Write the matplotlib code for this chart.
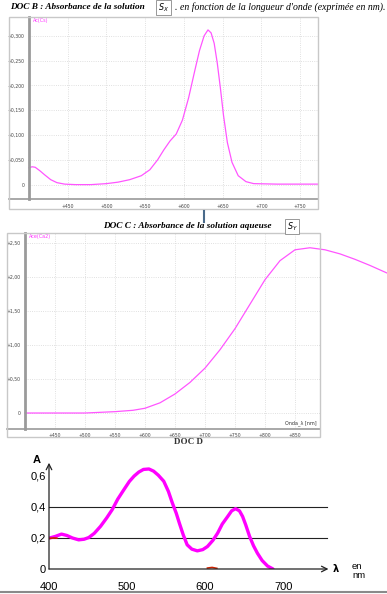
import matplotlib.pyplot as plt
from matplotlib.patches import Rectangle
from matplotlib.lines import Line2D

W, H = 387, 594

# ---- DOC B : absorbance de Sx ----
wl_b = [400, 404, 408, 414, 420, 428, 436, 446, 460, 480, 500, 515, 530, 545, 556,
        566, 574, 582, 590, 598, 606, 614, 620, 626, 631, 635, 639, 643, 647, 651,
        656, 662, 670, 680, 690, 720, 773]
abs_b = [0.034, 0.036, 0.035, 0.028, 0.020, 0.010, 0.004, 0.001, 0.000, 0.000, 0.002,
         0.005, 0.010, 0.018, 0.030, 0.050, 0.070, 0.088, 0.102, 0.130, 0.175, 0.230,
         0.270, 0.300, 0.312, 0.306, 0.285, 0.245, 0.195, 0.140, 0.085, 0.045, 0.018,
         0.006, 0.002, 0.001, 0.001]
yt_b = [0, 0.05, 0.10, 0.15, 0.20, 0.25, 0.30]
yl_b = ['0', '+0,050', '+0,100', '+0,150', '+0,200', '+0,250', '+0,300']
xt_b = [450, 500, 550, 600, 650, 700, 750]

# ---- DOC C : absorbance de Sy ----
wl_c = [400, 450, 500, 550, 580, 600, 625, 650, 675, 700, 725, 750, 775, 800, 825,
        850, 875, 900, 925, 950, 975, 1003]
abs_c = [0.0, 0.0, 0.0, 0.02, 0.04, 0.07, 0.15, 0.28, 0.45, 0.66, 0.93, 1.24, 1.60,
         1.96, 2.24, 2.40, 2.43, 2.40, 2.34, 2.26, 2.17, 2.06]
yt_c = [0, 0.5, 1.0, 1.5, 2.0, 2.5]
yl_c = ['0', '+0,50', '+1,00', '+1,50', '+2,00', '+2,50']
xt_c = [450, 500, 550, 600, 650, 700, 750, 800, 850]

# ---- DOC D ----
wl_d = [400, 408, 416, 423, 430, 438, 445, 451, 458, 466, 474, 481, 488, 496, 503,
        509, 515, 521, 528, 534, 540, 547, 553, 558, 563, 567, 572, 577, 583, 590,
        597, 603, 610, 616, 622, 629, 634, 639, 644, 648, 652, 657, 662, 667, 673,
        680, 687]
abs_d = [0.199, 0.210, 0.225, 0.216, 0.200, 0.188, 0.192, 0.203, 0.230, 0.275, 0.330,
         0.383, 0.450, 0.512, 0.565, 0.599, 0.625, 0.642, 0.645, 0.631, 0.605, 0.566,
         0.500, 0.426, 0.360, 0.296, 0.220, 0.156, 0.128, 0.117, 0.125, 0.145, 0.185,
         0.231, 0.290, 0.339, 0.375, 0.389, 0.375, 0.339, 0.285, 0.210, 0.150, 0.102,
         0.055, 0.019, 0.0]
yt_d = [0, 0.2, 0.4, 0.6]
yl_d = ['0', '0,2', '0,4', '0,6']
xt_d = [400, 500, 600, 700]
# little red stray marks on the scanned curve
wl_red1 = [401, 406, 410]
abs_red1 = [0.198, 0.200, 0.199]
wl_red2 = [603, 609, 615]
abs_red2 = [0.006, 0.010, 0.004]

fig = plt.figure(figsize=(W / 100, H / 100), dpi=100)


def fx(x):
    return x / W


def fy(y):
    return 1 - y / H


def px_axes(x0, y0, x1, y1):
    return fig.add_axes([fx(x0), fy(y1), (x1 - x0) / W, (y1 - y0) / H])


def frame(x0, y0, x1, y1):
    fig.patches.append(Rectangle((fx(x0), fy(y1)), (x1 - x0) / W, (y1 - y0) / H,
                                 transform=fig.transFigure, fill=False,
                                 ec='#c8c8c8', lw=1))


def scope_panel(ax, wl, ab, xt, yt, yl, xlim, ylim, tag, left_px):
    ax.set_facecolor('none')
    ax.plot(wl, ab, color='#ff55ff', lw=0.9, clip_on=False)
    ax.set_xlim(*xlim)
    ax.set_ylim(*ylim)
    for s in ['top', 'right', 'bottom']:
        ax.spines[s].set_visible(False)
    ax.spines['left'].set_color('#9a9a9a')
    ax.spines['left'].set_linewidth(2)
    ax.axhline(ylim[0], xmin=-left_px, xmax=1, color='#9a9a9a', lw=1.2, clip_on=False)
    ax.set_xticks(xt)
    ax.set_xticklabels(['+%d' % v for v in xt])
    ax.set_yticks(yt)
    ax.set_yticklabels(yl)
    ax.tick_params(length=0, labelsize=3.3, colors='#444444', pad=3)
    ax.grid(True, color='#d6d6d6', linestyle=':', lw=0.6)
    ax.text(0.015, 0.995, tag, transform=ax.transAxes, fontsize=3.5, color='#ff33ff',
            va='top', ha='left')


# DOC B panel
frame(9, 17, 318, 209)
axb = px_axes(29, 17, 318, 199.5)
scope_panel(axb, wl_b, abs_b, xt_b, yt_b, yl_b, (400, 773), (-0.030, 0.338),
            'Ac(Cs)', 20 / 289)

# DOC C panel
frame(7, 233, 320, 437)
axc = px_axes(25, 233, 320, 429)
scope_panel(axc, wl_c, abs_c, xt_c, yt_c, yl_c, (400, 891.7), (-0.235, 2.647),
            'Ace(Ca2)', 18 / 295)
axc.text(0.99, 0.015, 'Onda_λ [nm]', transform=axc.transAxes, fontsize=3.5,
         ha='right', va='bottom', color='#333333')

# small connector mark between B and C
fig.add_artist(Line2D([fx(204), fx(204)], [fy(211), fy(222)], color='#4a6a8a', lw=1.5))

# titles
tfont = dict(family='Liberation Serif', style='italic')
fig.text(fx(10), fy(7), "DOC B : Absorbance de la solution", weight='bold',
         va='center', fontsize=6.7, **tfont)
fig.text(fx(158), fy(7.5), r'$S_X$', fontsize=5.8, va='center', family='Liberation Serif',
         bbox=dict(boxstyle='square,pad=0.2', fc='white', ec='#888888', lw=0.6))
fig.text(fx(175), fy(7), ". en fonction de la longueur d'onde (exprimée en nm).",
         va='center', fontsize=7.0, **tfont)

fig.text(fx(103), fy(226), "DOC C : Absorbance de la solution aqueuse", weight='bold',
         va='center', fontsize=6.7, **tfont)
fig.text(fx(287), fy(226.5), r'$S_Y$', fontsize=5.8, va='center', family='Liberation Serif',
         bbox=dict(boxstyle='square,pad=0.2', fc='white', ec='#888888', lw=0.6))

fig.text(fx(188), fy(442), 'DOC D', family='Liberation Serif', weight='bold',
         fontsize=6.5, ha='center', va='center', color='#333333')

# DOC D panel
axd = px_axes(49, 462, 330, 569)
axd.set_facecolor('none')
axd.set_xlim(400, 760)
axd.set_ylim(0, 0.69)
for s in axd.spines.values():
    s.set_visible(False)
for v in yt_d[1:3]:
    axd.axhline(v, xmin=0, xmax=(327 - 49) / 281, color='#222222', lw=0.8)
axd.plot(wl_d, abs_d, color='#ff00ff', lw=2.4, solid_capstyle='round')
axd.plot(wl_red1, abs_red1, color='#cc2200', lw=1.2)
axd.plot(wl_red2, abs_red2, color='#cc2200', lw=1.2)
axd.annotate('', xy=(758, 0), xytext=(400, 0), annotation_clip=False,
             arrowprops=dict(arrowstyle='->', color='#222222', lw=0.9,
                             shrinkA=0, shrinkB=0))
axd.annotate('', xy=(400, 0.685), xytext=(400, 0), annotation_clip=False,
             arrowprops=dict(arrowstyle='->', color='#222222', lw=0.9,
                             shrinkA=0, shrinkB=0))
axd.set_xticks(xt_d)
axd.set_xticklabels([str(v) for v in xt_d])
axd.set_yticks(yt_d)
axd.set_yticklabels(yl_d)
axd.tick_params(axis='y', length=0, labelsize=8, pad=2, labelfontfamily='Liberation Sans')
axd.tick_params(axis='x', length=0, labelsize=8, pad=9, labelfontfamily='Liberation Sans')
fig.text(fx(37), fy(460), 'A', family='Liberation Sans', weight='bold', fontsize=8,
         ha='center', va='center')
fig.text(fx(333), fy(569), 'λ', family='DejaVu Sans', weight='bold', fontsize=7,
         ha='left', va='center')
fig.text(fx(352), fy(571), 'en\nnm', family='Liberation Sans', fontsize=6.8,
         ha='left', va='center', linespacing=1.05)

fig.add_artist(Line2D([0, 1], [fy(592), fy(592)], color='#8a8a8a', lw=1.5))

fig.savefig('out.png', dpi=100)
